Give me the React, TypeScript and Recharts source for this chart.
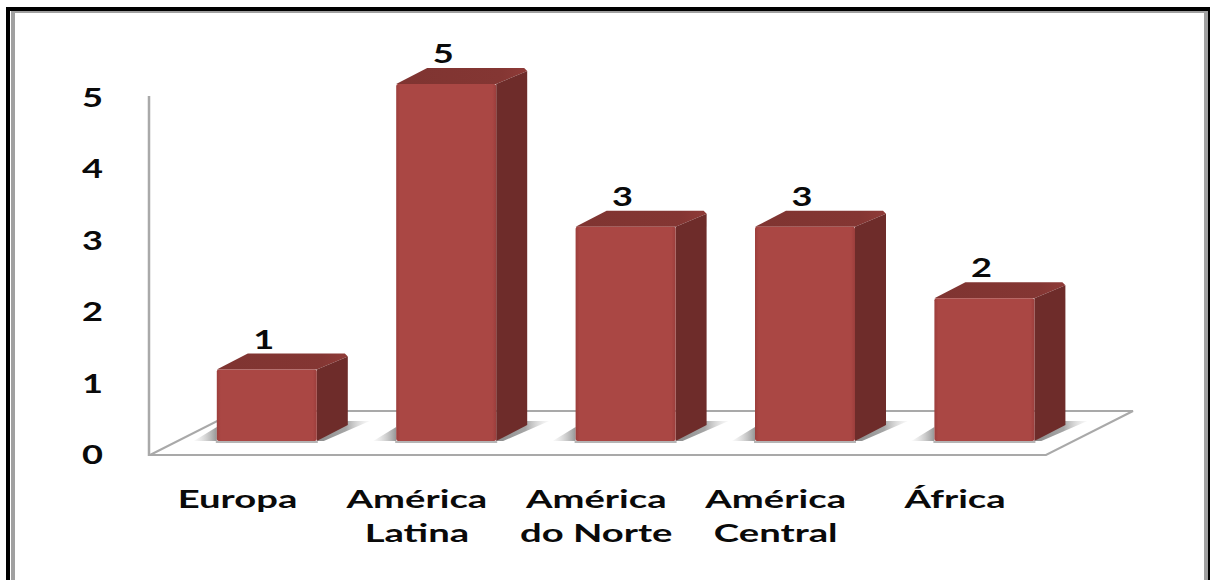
import { BarChart, Bar, XAxis, YAxis, LabelList, usePlotArea } from "recharts";

const REGIONS = ["Europa", "América Latina", "América do Norte", "América Central", "África"];
const COUNTS = [1, 5, 3, 3, 2];
const Y_TICKS = [0, 1, 2, 3, 4, 5];

const FONT = "Lato, sans-serif";
const DEPTH_X = 31;
const DEPTH_Y = 16;

const data = REGIONS.map((region, i) => ({ region, count: COUNTS[i] }));

// labels are drawn wide, so the text is stretched along x
function WideText({ x, y, children, size = 24.5, stretch = 1.56 }: any) {
  return (
    <text
      transform={`translate(${x},${y}) scale(${stretch},1)`}
      textAnchor="middle"
      fontFamily={FONT}
      fontWeight={700}
      fontSize={size}
      fill="#0a0a0a"
    >
      {children}
    </text>
  );
}

function Digit({ x, y, children }: any) {
  return (
    <WideText x={x} y={y} size={27} stretch={1.34}>
      {children}
    </WideText>
  );
}

// back wall edge and floor of the 3D box
function Floor() {
  const plot = usePlotArea();
  if (!plot) return null;
  const bottom = plot.y + plot.height;
  const right = plot.x + plot.width;
  const pts = [
    [plot.x - 26.8, bottom + 14],
    [right - 27.8, bottom + 14],
    [right + 59.2, bottom - 30],
    [plot.x + 60.2, bottom - 30],
  ];
  return (
    <g fill="none" stroke="#a9a9a9" strokeWidth={2}>
      <polygon points={pts.map((p) => p.join(",")).join(" ")} fill="#fff" />
      <line x1={pts[0][0] - 1} y1={pts[0][1] + 1} x2={pts[0][0] - 1} y2={plot.y + 12} strokeWidth={2.5} />
    </g>
  );
}

function Box({ x, y, width, height }: any) {
  const b = y + height;
  const r = x + width;
  return (
    <g>
      {/* floor shadow on both sides of the box */}
      <polygon points={`${x},${b} ${x},${b - 14} ${x - 23},${b}`} fill="url(#shadowLeft)" />
      <polygon
        points={`${r},${b} ${r + DEPTH_X - 2},${b - 20} ${r + DEPTH_X + 22},${b - 20} ${r + 7},${b}`}
        fill="url(#shadowRight)"
      />
      <rect x={x - 1} y={b} width={width + 2} height={2} fill="#b5b5b5" />
      <polygon
        points={`${x},${y} ${x + DEPTH_X},${y - DEPTH_Y} ${r + DEPTH_X - 3},${y - DEPTH_Y} ${r + DEPTH_X},${y - DEPTH_Y + 3} ${r},${y}`}
        fill="url(#boxTop)"
      />
      <polygon
        points={`${r},${y} ${r + DEPTH_X},${y - DEPTH_Y + 3} ${r + DEPTH_X},${b - DEPTH_Y} ${r},${b}`}
        fill="#6e2c2a"
      />
      <rect x={x} y={y} width={width} height={height} rx={2} fill="url(#boxFront)" />
    </g>
  );
}

function YTick({ x, y, payload }: any) {
  return (
    <Digit x={x - 76.3} y={y + 23}>
      {payload.value}
    </Digit>
  );
}

function XTick({ x, y, payload }: any) {
  // first word on one line, the rest below it
  const [first, ...rest] = payload.value.split(" ");
  return (
    <g>
      <WideText x={x - 29} y={y + 59}>
        {first}
      </WideText>
      {rest.length > 0 && (
        <WideText x={x - 29} y={y + 93}>
          {rest.join(" ")}
        </WideText>
      )}
    </g>
  );
}

function CountLabel({ x, y, width, value }: any) {
  return (
    <Digit x={x + width / 2 - 3} y={y - 21}>
      {value}
    </Digit>
  );
}

export default function App() {
  return (
    <div style={{ position: "absolute", left: 0, top: 0, width: 1210, height: 580, background: "#fff", overflow: "hidden" }}>
      {/* double frame */}
      <div style={{ position: "absolute", left: 6, top: 7, right: 0, bottom: -10, borderStyle: "solid", borderColor: "#000", borderWidth: "4px 2px 0 4px" }} />
      <div style={{ position: "absolute", left: 11, top: 11, right: 2, bottom: -10, borderStyle: "solid", borderColor: "#a0a0a0", borderWidth: "2px 4px 0 4px" }} />
      <div style={{ position: "absolute", left: 0, top: 0 }}>
        <BarChart
          width={1210}
          height={580}
          data={data}
          barSize={100}
          margin={{ top: 84, right: 136.2, bottom: 0, left: 99.3 }}
        >
          <defs>
            <linearGradient id="boxFront" x1="0" y1="0" x2="1" y2="0">
              <stop offset="0" stopColor="#9c3e3c" />
              <stop offset="0.04" stopColor="#aa4744" />
              <stop offset="0.96" stopColor="#aa4744" />
              <stop offset="1" stopColor="#9c3e3c" />
            </linearGradient>
            <linearGradient id="boxTop" x1="0" y1="0" x2="1" y2="0">
              <stop offset="0" stopColor="#7f3431" />
              <stop offset="0.8" stopColor="#843633" />
              <stop offset="1" stopColor="#8f3b38" />
            </linearGradient>
            <linearGradient id="shadowLeft" x1="0" y1="0" x2="1" y2="0">
              <stop offset="0" stopColor="#d0d0d0" stopOpacity={0.1} />
              <stop offset="1" stopColor="#969696" />
            </linearGradient>
            <linearGradient id="shadowRight" x1="0" y1="0" x2="1" y2="0">
              <stop offset="0" stopColor="#8c8c8c" />
              <stop offset="0.55" stopColor="#a6a6a6" />
              <stop offset="1" stopColor="#e0e0e0" stopOpacity={0.2} />
            </linearGradient>
          </defs>
          <Floor />
          <XAxis
            dataKey="region"
            interval={0}
            height={139}
            axisLine={false}
            tickLine={false}
            tick={<XTick />}
          />
          <YAxis
            type="number"
            domain={[0, 5]}
            ticks={Y_TICKS}
            width={77.5}
            axisLine={false}
            tickLine={false}
            tick={<YTick />}
          />
          <Bar dataKey="count" shape={<Box />} isAnimationActive={false}>
            <LabelList dataKey="count" content={<CountLabel />} />
          </Bar>
        </BarChart>
      </div>
    </div>
  );
}
